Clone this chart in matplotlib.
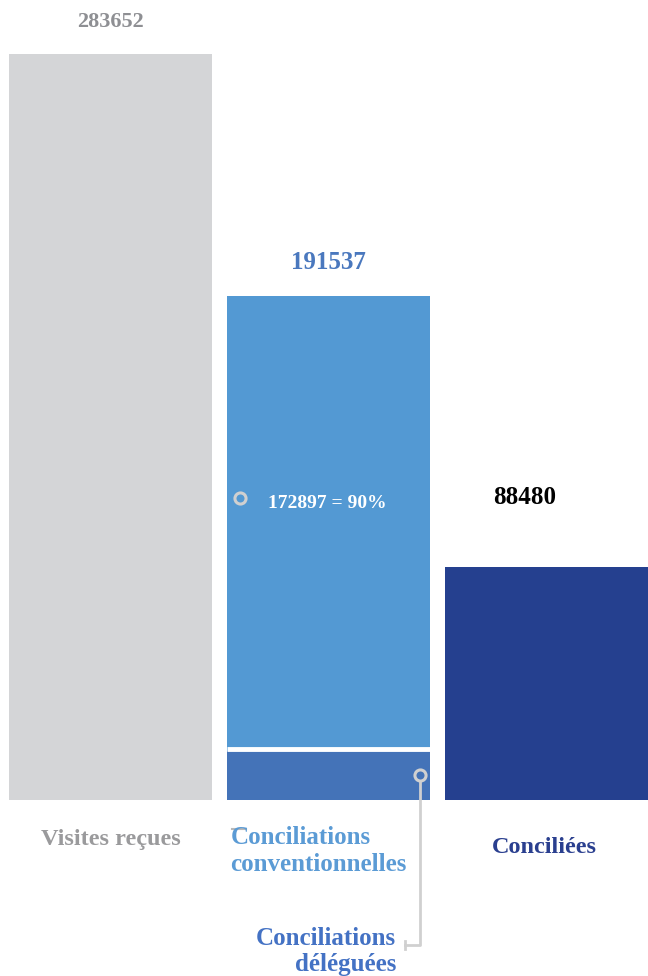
import matplotlib.pyplot as plt

# données
categories = ['Visites reçues', 'Conciliations\nconventionnelles', 'Conciliées']
totals = [283652, 191537, 88480]
conventionnelles = 172897
deleguees = totals[1] - conventionnelles
pct_conv = 90

c_gray = '#D4D5D7'
c_light = '#5399D3'
c_mid = '#4473B8'
c_navy = '#25408F'

plt.rcParams['font.family'] = ['Liberation Serif', 'DejaVu Serif']
plt.rcParams['font.weight'] = 'bold'

fig = plt.figure(figsize=(6.48, 9.76), dpi=100)
ax = fig.add_axes([0, 0, 1, 1])
ax.set_xlim(-0.507, 2.466)
ax.set_ylim(-66923, 304184)
ax.axis('off')

w = 0.93
ax.bar(0, totals[0], width=w, color=c_gray)
ax.bar(1, deleguees, width=w, color=c_mid)
ax.bar(1, conventionnelles, bottom=deleguees, width=w, color=c_light, linewidth=0)
# petite séparation blanche entre les deux segments
ax.plot([1 - w / 2, 1 + w / 2], [deleguees + 800, deleguees + 800],
        color='white', lw=3.5, solid_capstyle='butt')
ax.bar(2, totals[2], width=w, color=c_navy)

# valeurs au-dessus des barres
ax.text(0, totals[0] + 8500, f'{totals[0]}', ha='center', va='bottom',
        fontsize=16, color='#8E8F93')
ax.text(1, totals[1] + 8300, f'{totals[1]}', ha='center', va='bottom',
        fontsize=18, color='#4A78BE')
ax.text(1.9, totals[2] + 22200, f'{totals[2]}', ha='center', va='bottom',
        fontsize=18, color='black')

# annotation à l'intérieur de la barre
ax.text(0.722, 112900, f'{conventionnelles} = {pct_conv}%', ha='left', va='center',
        fontsize=14, color='white')
ax.plot(0.594, 114800, 'o', ms=8, mfc='none', mec='#D0D0D0', mew=2.2)

# libellés des catégories
ax.text(0, -15000, categories[0], ha='center', va='center',
        fontsize=17.5, color='#9A9A9C')
ax.plot([0.557, 0.622], [-11030, -11030], color='#B8B8B8', lw=1.5, zorder=1)
ax.text(0.55, -19500, categories[1], ha='left', va='center',
        fontsize=18, color='#5B9BD5', linespacing=1.2, zorder=3)
ax.text(1.99, -18200, categories[2], ha='center', va='center',
        fontsize=17.5, color='#2A3F8F')

# renvoi vers les conciliations déléguées
xc = 1.42
yc = deleguees - 9000
ax.plot([xc, xc, xc - 0.07], [yc, -55000, -55000], color='#D0D0D0', lw=2)
ax.plot([xc - 0.07, xc - 0.07], [-53500, -56500], color='#D0D0D0', lw=2)
ax.plot(xc, yc, 'o', ms=8, mfc=c_mid, mec='#D0D0D0', mew=2.2, zorder=5)
ax.text(1.31, -57600, 'Conciliations\ndéléguées', ha='right', va='center',
        multialignment='right', fontsize=18, color='#4472C4', linespacing=1.2)

fig.savefig('out.png', dpi=100)
